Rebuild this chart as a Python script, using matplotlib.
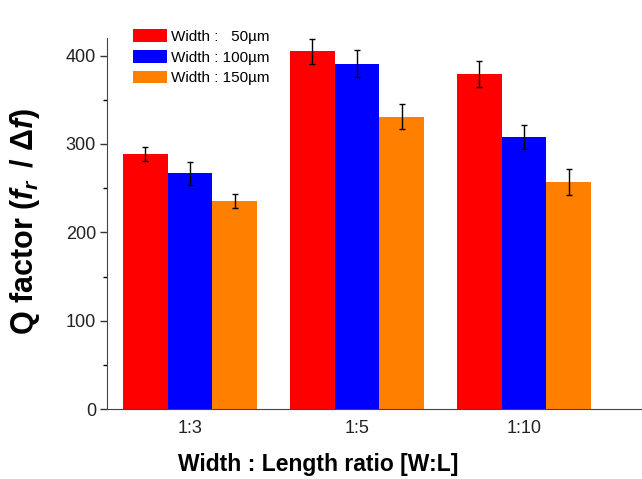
import numpy as np
import matplotlib
matplotlib.use('Agg')
import matplotlib.pyplot as plt

plt.rcParams['font.family'] = ['Liberation Sans', 'DejaVu Sans']
plt.rcParams['mathtext.fontset'] = 'custom'
plt.rcParams['mathtext.rm'] = 'Liberation Sans:bold'
plt.rcParams['mathtext.it'] = 'Liberation Sans:italic:bold'

ratios = ['1:3', '1:5', '1:10']
series = ['Width :   50\u00b5m', 'Width : 100\u00b5m', 'Width : 150\u00b5m']
colors = ['#ff0000', '#0000ff', '#ff8000']

q_50 = [289, 405, 379]
q_100 = [267, 391, 308]
q_150 = [235, 331, 257]
err_50 = [8, 14, 15]
err_100 = [13, 15, 14]
err_150 = [8, 14, 15]

vals = [q_50, q_100, q_150]
errs = [err_50, err_100, err_150]

fig = plt.figure(figsize=(6.42, 4.79), dpi=100)
ax = fig.add_axes([0.1667, 0.1461, 0.8333, 0.7746])

x = np.arange(len(ratios))
w = 0.267
for i in range(3):
    ax.bar(x + (i - 1) * w, vals[i], w, color=colors[i], label=series[i],
           yerr=errs[i], capsize=2.5,
           error_kw=dict(ecolor='black', elinewidth=1, capthick=1))

ax.set_xlim(-0.497, 2.707)
ax.set_ylim(0, 420)
ax.set_yticks([0, 100, 200, 300, 400])
ax.set_yticks([50, 150, 250, 350], minor=True)
ax.set_xticks(x)
ax.set_xticklabels(ratios)
ax.tick_params(axis='both', labelsize=13, colors='#333333', labelcolor='#222222')
ax.tick_params(axis='x', length=0, pad=8)
ax.tick_params(axis='y', which='major', length=5, width=1, pad=3)
ax.tick_params(axis='y', which='minor', length=3, width=1)
ax.spines['top'].set_visible(False)
ax.spines['right'].set_visible(False)
ax.spines['left'].set_color('#444444')
ax.spines['bottom'].set_color('#444444')

ax.set_ylabel(r'Q factor ($f_r\,$ / $\Delta f$)', fontsize=22, fontweight='bold')
ax.yaxis.set_label_coords(-0.122, 0.505)
ax.set_xlabel('Width : Length ratio [W:L]', fontsize=16.5, fontweight='bold')
ax.xaxis.set_label_coords(0.394, -0.118)

ax.legend(loc='upper left', bbox_to_anchor=(0.037, 1.04), frameon=False, fontsize=11,
          handlelength=2.2, handleheight=0.9, labelspacing=0.4, handletextpad=0.3,
          borderaxespad=0)

fig.savefig('out.png', dpi=100)
